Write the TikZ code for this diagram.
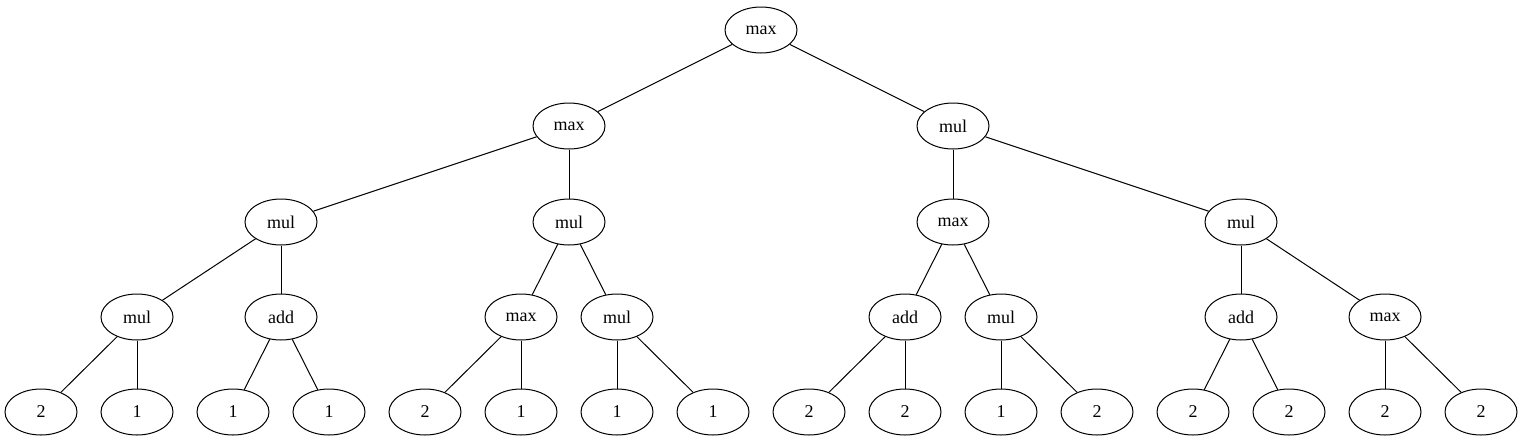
\documentclass[tikz,border=0pt]{standalone}
\usepackage{fontspec}
\setmainfont{Liberation Serif}
\usetikzlibrary{shapes.geometric}

\begin{document}
\begin{tikzpicture}[x=0.75pt, y=-0.75pt, line width=0.75pt,
        tnode/.style={draw, ellipse, minimum width=54pt, minimum height=34.5pt, inner sep=0pt, font=\fontsize{13.5}{16}\selectfont}]
        \useasboundingbox (0,0) rectangle (1523,443);

        % level 0 and 1
        \node[tnode] (root) at (761,30) {max};
        \node[tnode] (l) at (569,126) {max};
        \node[tnode] (r) at (953,126) {mul};

        % level 2
        \node[tnode] (ll) at (281,222) {mul};
        \node[tnode] (lr) at (569,222) {mul};
        \node[tnode] (rl) at (953,222) {max};
        \node[tnode] (rr) at (1241,222) {mul};

        % level 3
        \node[tnode] (lll) at (137,317) {mul};
        \node[tnode] (llr) at (281,317) {add};
        \node[tnode] (lrl) at (521,317) {max};
        \node[tnode] (lrr) at (617,317) {mul};
        \node[tnode] (rll) at (905,317) {add};
        \node[tnode] (rlr) at (1001,317) {mul};
        \node[tnode] (rrl) at (1241,317) {add};
        \node[tnode] (rrr) at (1385,317) {max};

        % leaves
        \node[tnode] (a1) at (41,412) {2};
        \node[tnode] (a2) at (137,412) {1};
        \node[tnode] (b1) at (233,412) {1};
        \node[tnode] (b2) at (329,412) {1};
        \node[tnode] (c1) at (425,412) {2};
        \node[tnode] (c2) at (521,412) {1};
        \node[tnode] (d1) at (617,412) {1};
        \node[tnode] (d2) at (713,412) {1};
        \node[tnode] (e1) at (809,412) {2};
        \node[tnode] (e2) at (905,412) {2};
        \node[tnode] (f1) at (1001,412) {1};
        \node[tnode] (f2) at (1097,412) {2};
        \node[tnode] (g1) at (1193,412) {2};
        \node[tnode] (g2) at (1289,412) {2};
        \node[tnode] (h1) at (1385,412) {2};
        \node[tnode] (h2) at (1481,412) {2};

        \draw (root) -- (l);
        \draw (root) -- (r);
        \draw (l) -- (ll);
        \draw (l) -- (lr);
        \draw (r) -- (rl);
        \draw (r) -- (rr);
        \draw (ll) -- (lll);
        \draw (ll) -- (llr);
        \draw (lr) -- (lrl);
        \draw (lr) -- (lrr);
        \draw (rl) -- (rll);
        \draw (rl) -- (rlr);
        \draw (rr) -- (rrl);
        \draw (rr) -- (rrr);
        \draw (lll) -- (a1);
        \draw (lll) -- (a2);
        \draw (llr) -- (b1);
        \draw (llr) -- (b2);
        \draw (lrl) -- (c1);
        \draw (lrl) -- (c2);
        \draw (lrr) -- (d1);
        \draw (lrr) -- (d2);
        \draw (rll) -- (e1);
        \draw (rll) -- (e2);
        \draw (rlr) -- (f1);
        \draw (rlr) -- (f2);
        \draw (rrl) -- (g1);
        \draw (rrl) -- (g2);
        \draw (rrr) -- (h1);
        \draw (rrr) -- (h2);
\end{tikzpicture}
\end{document}
